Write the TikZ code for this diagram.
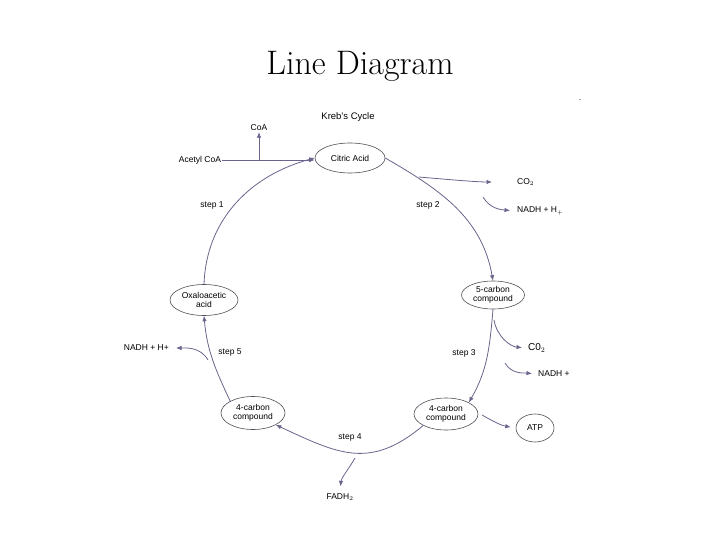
\documentclass[tikz,border=0pt]{standalone}
\usepackage{fontspec}
\setsansfont{Liberation Sans}
\usepackage{tikz}
\usetikzlibrary{shapes.geometric, arrows.meta, positioning}

\definecolor{ink}{RGB}{104,100,140}
\definecolor{rim}{RGB}{80,80,90}

\begin{document}
\begin{tikzpicture}[
    x=1pt, y=-1pt,
    font=\sffamily\fontsize{8.5}{9.5}\selectfont,
    >={Latex[length=5.5pt,width=4.5pt]},
    comp/.style={
        draw=rim, ellipse, line width=0.6pt, inner sep=0.5pt, align=center, fill=white
    },
    flow/.style={->, draw=ink, line width=0.8pt},
    lbl/.style={inner sep=1pt}
]

% FRAME
\useasboundingbox (0,0) rectangle (720,540);

% TITLE
\node[font=\rmfamily\fontsize{34}{38}\selectfont] (title) at (360,66) {Line Diagram};
\node[lbl, font=\sffamily\fontsize{6}{7}\selectfont] (dash) at (580,101) {-};
\node[lbl, font=\sffamily\fontsize{9.5}{10.5}\selectfont] (kreb) at (348,117) {Kreb's Cycle};

% COMPOUNDS
\node[comp, minimum width=70, minimum height=30] (citric) at (350,158) {Citric Acid};
\node[comp, minimum width=63, minimum height=28] (five) at (493,295) {5-carbon\\compound};
\node[comp, minimum width=64, minimum height=32] (fourR) at (446,414) {4-carbon\\compound};
\node[comp, minimum width=64, minimum height=33] (fourL) at (253,413) {4-carbon\\compound};
\node[comp, minimum width=68, minimum height=31] (oxalo) at (204,300) {Oxaloacetic\\acid};
\node[comp, minimum width=38, minimum height=28] (atp) at (535,428) {ATP};

% LABELS
\node[lbl] (coa) at (259,128) {CoA};
\node[lbl] (acetyl) at (200,160) {Acetyl CoA};
\node[lbl] (step1) at (212,205) {step 1};
\node[lbl] (step2) at (428,205) {step 2};
\node[lbl] (step3) at (464,353) {step 3};
\node[lbl] (step4) at (350,437) {step 4};
\node[lbl] (step5) at (230,352) {step 5};
\node[lbl, anchor=west] (co2a) at (516,182) {CO$_2$};
\node[lbl, anchor=west] (nadha) at (516,211) {NADH + H$_+$};
\node[lbl, anchor=west, font=\sffamily\fontsize{10}{11}\selectfont] (co2b) at (527,348) {C0$_2$};
\node[lbl, anchor=west] (nadhb) at (537,374) {NADH +};
\node[lbl, anchor=east] (nadhc) at (170,348) {NADH + H+};
\node[lbl] (fadh) at (340,497) {FADH$_2$};

% BRANCH POINTS
\coordinate (b1) at (419,177);
\coordinate (b2) at (483,197);
\coordinate (b3) at (494,320);
\coordinate (b4) at (505,363);
\coordinate (b5) at (482,415);
\coordinate (b6) at (355,458);
\coordinate (b7) at (208,360);

% CYCLE
\draw[flow] (acetyl.east) -- (citric.west |- acetyl);
\draw[flow] (coa |- acetyl) -- (coa.south);
\draw[flow] (citric.east) to[out=-30, in=100] (five.north);
\draw[flow] (five.south) to[out=-95, in=60] (fourR.north east);
\draw[flow] (fourR.south west) to[out=-140, in=-25, looseness=1.2] (fourL.south east);
\draw[flow] (fourL.north west) to[out=115, in=-85] (oxalo.south);
\draw[flow] (oxalo.north) to[out=88, in=-165] (citric.west);

% PRODUCTS
\draw[flow, shorten >=24] (b1) to[out=-5, in=180] (co2a.west);
\draw[flow, shorten >=6] (b2) to[out=-60, in=175] (nadha.west);
\draw[flow, shorten >=5] (b3) to[out=-80, in=175] (co2b.west);
\draw[flow, shorten >=5] (b4) to[out=-60, in=175] (nadhb.west);
\draw[flow, shorten >=5] (b5) to[out=-30, in=170] (atp.west);
\draw[flow, shorten >=6] (b6) to[out=-120, in=85] (fadh.north);
\draw[flow, shorten >=6] (b7) to[out=120, in=0] (nadhc.east);

\end{tikzpicture}
\end{document}
